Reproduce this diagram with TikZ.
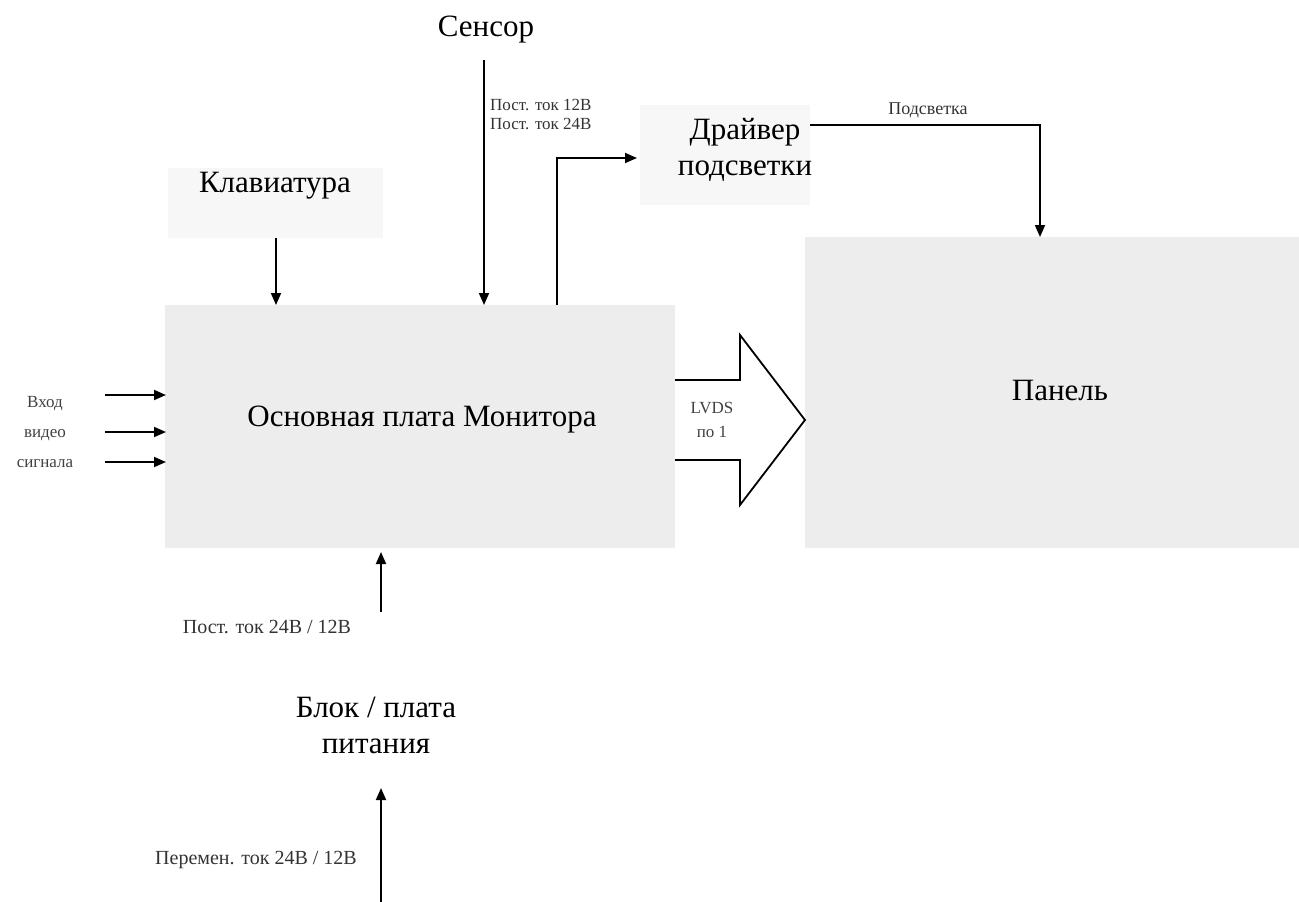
\documentclass[tikz,border=0pt]{standalone}
\usepackage{fontspec}
\setmainfont{Liberation Serif}
\usetikzlibrary{arrows.meta}
\tikzset{
  conn/.style={line width=1.8pt,-{Triangle[length=12pt,width=10pt]}},
  plain/.style={line width=1.8pt},
  bigtxt/.style={font=\fontsize{31}{36}\selectfont,inner sep=0pt,align=center},
  smalltxt/.style={font=\fontsize{20}{22}\selectfont,inner sep=0pt,align=left,text=black!80},
  tinytxt/.style={font=\fontsize{17}{30}\selectfont,inner sep=0pt,align=center,text=black!75},
  board/.style={fill=black!7,draw=none,inner sep=0pt},
  faintbox/.style={fill=black!3,draw=none,inner sep=0pt},
}
\begin{document}
\begin{tikzpicture}[x=1pt,y=-1pt]
\useasboundingbox (0,0) rectangle (1299,902);
% boxes
\node[board,minimum width=510pt,minimum height=243pt,anchor=north west] (main) at (165,305) {};
\node[board,minimum width=494pt,minimum height=311pt,anchor=north west] (panel) at (805,237) {};
\node[faintbox,minimum width=215pt,minimum height=70pt,anchor=north west] (kb) at (168,168) {};
\node[faintbox,minimum width=170pt,minimum height=100pt,anchor=north west] (drv) at (640,105) {};
% texts
\node[bigtxt] (maintxt) at (422,420) {Основная плата Монитора};
\node[bigtxt] (paneltxt) at (1060,390) {Панель};
\node[bigtxt] (kbtxt) at (275,186) {Клавиатура};
\node[bigtxt] (drvtxt) at (745,150) {Драйвер\\подсветки};
\node[bigtxt] (sensor) at (486,30) {Сенсор};
\node[bigtxt] (psu) at (376,725) {Блок / плата\\питания};
% connectors
\coordinate (sensTop) at (484,60);
\draw[conn] (sensTop) -- (sensTop |- main.north);
\draw[conn] (kb.south -| 276,0) -- (276,305);
\coordinate (drvStart) at (557,305);
\coordinate (drvEnd) at (637,158);
\draw[conn] (drvStart) |- (drvEnd);
\coordinate (blStart) at (810,125);
\draw[conn] (blStart) -| (panel.north -| 1040,0);
\coordinate (acBot) at (381,902);
\coordinate (psuBot) at (381,788);
\coordinate (psuTop) at (381,612);
\draw[conn] (acBot) -- (psuBot);
\draw[conn] (psuTop) -- (381,552);
% video inputs
\foreach \yy in {395,432,462}{
  \coordinate (vin\yy) at (105,\yy);
  \draw[conn] (vin\yy) -- (166,\yy);
}
% LVDS big arrow
\draw[plain,line join=miter] (675,380) -- (740,380) -- (740,335) -- (805,420) -- (740,505) -- (740,460) -- (675,460);
\node[tinytxt,font=\fontsize{17}{24}\selectfont] (lvds) at (712,420) {LVDS\\по 1};
% labels
\node[smalltxt,anchor=west,font=\fontsize{17}{19}\selectfont] (l12) at (490,114) {Пост. ток 12В\\Пост. ток 24В};
\node[smalltxt,font=\fontsize{18}{20}\selectfont] (lbl) at (928,110) {Подсветка};
\node[tinytxt] (vid) at (45,432) {Вход\\видео\\сигнала};
\node[smalltxt] (ldc) at (267,627) {Пост. ток 24В / 12В};
\node[smalltxt] (lac) at (256,860) {Перемен. ток 24В / 12В};
\end{tikzpicture}
\end{document}
